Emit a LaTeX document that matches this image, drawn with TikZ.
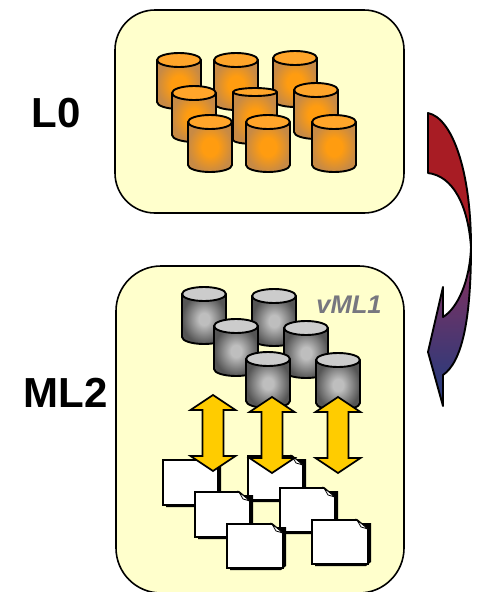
\documentclass[tikz,border=0pt]{standalone}
\usepackage{fontspec}
\setmainfont{Liberation Sans}
\definecolor{orangecore}{HTML}{FF9C10}
\definecolor{orangeedge}{HTML}{C88A44}
\definecolor{orangetop}{HTML}{FFA52A}
\definecolor{greycore}{HTML}{BEBEBE}
\definecolor{greyedge}{HTML}{555555}
\definecolor{greytop}{HTML}{CCCCCC}
\definecolor{swoopblue}{HTML}{2E3A7A}
\definecolor{swoopmid}{HTML}{86305E}
\definecolor{swoopred}{HTML}{A81C24}
\definecolor{panelfill}{HTML}{FFFFCC}
\definecolor{arrowgold}{HTML}{FFCC00}
\definecolor{vmlgrey}{HTML}{77777F}
\pgfdeclareradialshading{orangeglow}{\pgfpoint{0bp}{0bp}}{color(0bp)=(orangecore); color(9bp)=(orangecore); color(25bp)=(orangeedge); color(50bp)=(orangeedge)}
\pgfdeclareradialshading{greyglow}{\pgfpoint{0bp}{0bp}}{color(0bp)=(greycore); color(6bp)=(greycore); color(25bp)=(greyedge); color(50bp)=(greyedge)}
\pgfdeclareverticalshading{swoop}{100bp}{color(0bp)=(swoopblue); color(25bp)=(swoopblue); color(29bp)=(swoopblue); color(50bp)=(swoopmid); color(53bp)=(swoopred); color(100bp)=(swoopred)}
\tikzset{
  panelbox/.style={draw=black,line width=1.6pt,fill=panelfill},
  outline/.style={draw=black,line width=1.9pt,line join=round},
  biglabel/.style={font=\fontsize{42}{42}\selectfont\bfseries,text=black,inner sep=0pt},
  vmllabel/.style={font=\fontsize{25.5}{26}\selectfont\bfseries\itshape,text=vmlgrey,inner sep=0pt},
  goldarrow/.style={fill=arrowgold,draw=black,line width=1.7pt,line join=miter},
}
% #1 left, #2 top, #3 bottom, #4 ellipse half-height, #5 shading, #6 top colour
\newcommand{\drum}[6]{%
  \path[shading=#5] (#1,#2+#4) -- (#1,#3-#4) arc[start angle=180,end angle=0,x radius=22,y radius=#4] -- (#1+44,#2+#4) -- cycle;
  \draw[outline] (#1,#2+#4) -- (#1,#3-#4) arc[start angle=180,end angle=0,x radius=22,y radius=#4] -- (#1+44,#2+#4);
  \path[outline,fill=#6] (#1+22,#2+#4) ellipse[x radius=22,y radius=#4];
}
% #1 left, #2 top, #3 right of the sheet, #4 bottom
\newcommand{\sheet}[4]{%
  \fill[black] (#1+3,#2+3) -- (#3+3,#2+3) -- (#3+3,#4-2) -- (#3-2,#4+2) -- (#1+3,#4+2) -- cycle;
  \path[draw=black,line width=1.7pt,fill=white,line join=miter] (#1,#2) -- (#3-11,#2) -- (#3,#2+9) -- (#3,#4) -- (#1,#4) -- cycle;
  \path[draw=black,line width=.8pt,fill=white] (#3-11,#2) -- (#3-7,#2+7) -- (#3,#2+9) -- cycle;
}
% #1 centre x, #2 top, #3 bottom
\newcommand{\updown}[3]{%
  \path[goldarrow] (#1,#2) -- (#1+22.5,#2+15) -- (#1+10.5,#2+15) -- (#1+10.5,#3-15) -- (#1+22.5,#3-15) -- (#1,#3) -- (#1-22.5,#3-15) -- (#1-10.5,#3-15) -- (#1-10.5,#2+15) -- (#1-22.5,#2+15) -- cycle;
}
\begin{document}
\begin{tikzpicture}[x=1pt,y=-1pt]
\useasboundingbox (0,0) rectangle (479,592);
\path[panelbox,rounded corners=40pt] (115,10) rectangle (404,213);
\begin{scope}
\clip (0,0) rectangle (479,592);
\path[panelbox,rounded corners=45pt] (116,266) rectangle (404,593);
\end{scope}
\node[biglabel] (l0) at (56,113) {L0};
\node[biglabel] (ml2) at (65.5,393) {ML2};
% top drums
\drum{157}{53}{109}{7}{orangeglow}{orangetop}
\drum{214}{53}{110}{7}{orangeglow}{orangetop}
\drum{273}{51}{107}{7}{orangeglow}{orangetop}
\drum{172}{86}{142}{7}{orangeglow}{orangetop}
\drum{233}{88}{144}{4}{orangeglow}{orangetop}
\drum{294}{83}{139}{7}{orangeglow}{orangetop}
\drum{188}{115}{172}{7}{orangeglow}{orangetop}
\drum{246}{115}{172}{7}{orangeglow}{orangetop}
\drum{312}{115}{172}{7}{orangeglow}{orangetop}
% sheets
\sheet{163}{460}{218}{505}
\sheet{248}{456}{303}{500}
\sheet{195}{492}{250}{537}
\sheet{280}{488}{335}{532}
\sheet{227}{524}{283}{568}
\sheet{312}{520}{368}{564}
% grey drums
\drum{182}{287}{344}{7}{greyglow}{greytop}
\drum{252}{289}{346}{7}{greyglow}{greytop}
\drum{214}{319}{376}{7}{greyglow}{greytop}
\drum{284}{321}{378}{7}{greyglow}{greytop}
\drum{246}{352}{408}{7}{greyglow}{greytop}
\drum{316}{353}{410}{7}{greyglow}{greytop}
\node[vmllabel] (vml) at (349,305) {vML1};
% gold arrows
\updown{213}{395}{471}
\updown{272}{397}{473}
\updown{338}{397}{473}
% curved arrow
\path[shading=swoop] (428,113) .. controls (452,118) and (471,170) .. (471,247)
  .. controls (471,320) and (462,362) .. (443,375) -- (443,406) -- (428,352) -- (443,287) -- (443,317)
  .. controls (458,308) and (470,280) .. (471,247) .. controls (468,205) and (453,176) .. (428,173) -- cycle;
\draw[outline] (428,113) .. controls (452,118) and (471,170) .. (471,247)
  .. controls (471,320) and (462,362) .. (443,375) -- (443,406) -- (428,352) -- (443,287) -- (443,317)
  .. controls (458,308) and (470,280) .. (471,247) .. controls (468,205) and (453,176) .. (428,173) -- cycle;
\end{tikzpicture}
\end{document}
